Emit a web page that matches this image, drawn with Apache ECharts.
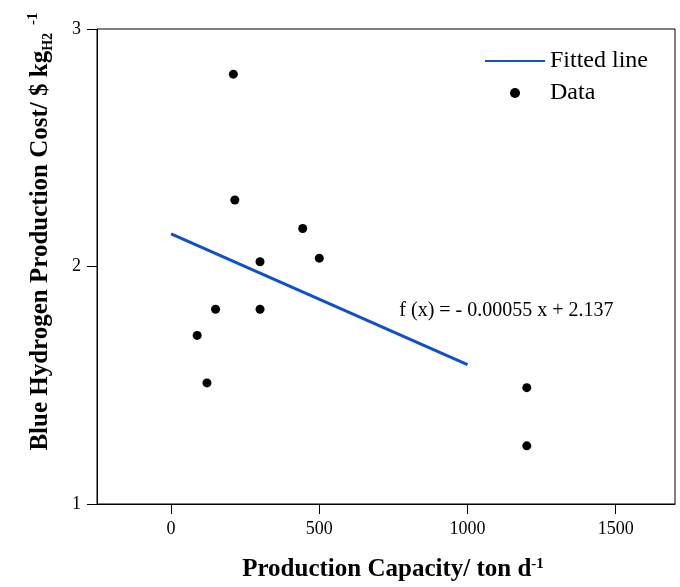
<!DOCTYPE html>
<html>
<head>
<meta charset="utf-8">
<script src="https://cdn.jsdelivr.net/npm/echarts@6/dist/echarts.min.js"></script>
<style>
  html, body { margin: 0; padding: 0; background: #fff; }
  #main { width: 680px; height: 587px; }
</style>
</head>
<body>
<div id="main"></div>
<script>
// measured points (capacity in ton/d, cost in $/kg H2)
var capacity = [210, 215, 444, 300, 500, 150, 300, 88, 121, 1200, 1200];
var cost = [2.81, 2.28, 2.16, 2.02, 2.035, 1.82, 1.82, 1.71, 1.51, 1.49, 1.245];
// fitted line endpoints
var fitX = [0, 1000];
var fitY = [2.137, 1.587];
var xTicks = [0, 500, 1000, 1500];
var yTicks = [1, 2, 3];
var eqText = "f (x) = - 0.00055 x + 2.137";

var FONT = "Liberation Serif";

var chartDom = document.getElementById("main");
var myChart = echarts.init(chartDom);

var dataPts = capacity.map(function (x, i) { return [x, cost[i]]; });
var fitPts = fitX.map(function (x, i) { return [x, fitY[i]]; });

function plain(v) {
  return String(v);
}

var option = {
  animation: false,
  textStyle: { fontFamily: FONT, color: "#000" },
  grid: {
    left: 97,
    top: 29,
    right: 5,
    bottom: 82,
    show: true,
    borderColor: "#000",
    borderWidth: 1,
  },
  legend: {
    orient: "vertical",
    left: 484,
    top: 49,
    padding: 0,
    itemWidth: 60,
    itemHeight: 10,
    itemGap: 8,
    textStyle: { fontFamily: FONT, fontSize: 24, color: "#000" },
    data: [
      { name: "Fitted line", itemStyle: { opacity: 0 } },
      { name: "Data" },
    ],
  },
  xAxis: {
    type: "value",
    min: -250,
    max: 1700,
    name: "Production Capacity/ ton d{sup|-1}",
    nameLocation: "middle",
    nameGap: 53,
    nameTextStyle: {
      fontFamily: FONT,
      fontSize: 25,
      fontWeight: "bold",
      color: "#000",
      padding: [0, 0, 0, 14],
      rich: {
        sup: { fontFamily: FONT, fontSize: 15, fontWeight: "bold", color: "#000", verticalAlign: "top", padding: [0, 0, 10, 0] },
      },
    },
    axisLine: { show: true, onZero: false, lineStyle: { color: "#000", width: 1 } },
    axisTick: { show: true, length: 10, customValues: xTicks, lineStyle: { color: "#000" } },
    axisLabel: { customValues: xTicks, formatter: plain, fontSize: 18, color: "#000", margin: 16, fontFamily: FONT },
    splitLine: { show: false },
  },
  yAxis: {
    type: "value",
    min: 1,
    max: 3,
    interval: 1,
    name: "Blue Hydrogen Production Cost/ $ kg{sub|H2}{sup|-1}",
    nameLocation: "middle",
    nameGap: 42,
    nameRotate: 90,
    nameTextStyle: {
      fontFamily: FONT,
      fontSize: 25,
      fontWeight: "bold",
      color: "#000",
      padding: [0, 0, 0, 70],
      rich: {
        sub: { fontFamily: FONT, fontSize: 14, fontWeight: "bold", color: "#000", verticalAlign: "bottom", padding: [10, 0, 0, 0] },
        sup: { fontFamily: FONT, fontSize: 15, fontWeight: "bold", color: "#000", verticalAlign: "top", padding: [0, 0, 14, 8] },
      },
    },
    axisLine: { show: true, onZero: false, lineStyle: { color: "#000", width: 1 } },
    axisTick: { show: true, length: 10, lineStyle: { color: "#000" } },
    axisLabel: { formatter: plain, fontSize: 18, color: "#000", margin: 16, fontFamily: FONT },
    splitLine: { show: false },
  },
  series: [
    {
      name: "Fitted line",
      type: "line",
      data: fitPts,
      symbol: "none",
      lineStyle: { color: "#1150c8", width: 3 },
      itemStyle: { color: "#1150c8" },
      markPoint: {
        symbol: "circle",
        symbolSize: 0,
        label: {
          show: true,
          position: "right",
          distance: 0,
          formatter: eqText,
          fontFamily: FONT,
          fontSize: 20,
          color: "#000",
        },
        data: [{ coord: [770, 1.815] }],
      },
    },
    {
      name: "Data",
      type: "scatter",
      data: dataPts,
      symbol: "circle",
      symbolSize: 9,
      itemStyle: { color: "#000", opacity: 1 },
    },
  ],
};

myChart.setOption(option);
window.addEventListener("resize", function () {
  myChart.resize();
});
</script>
</body>
</html>
